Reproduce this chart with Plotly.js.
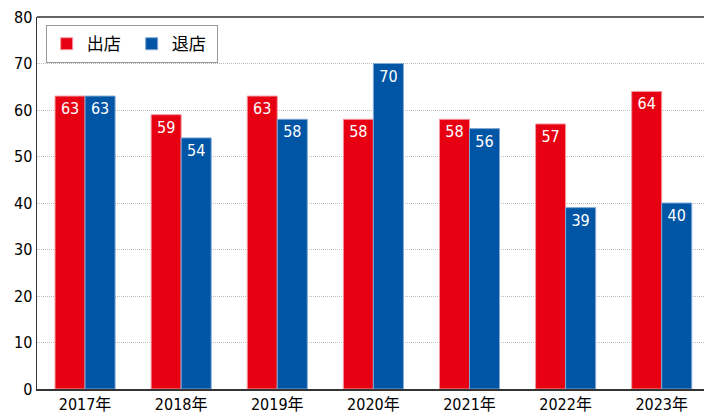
<!DOCTYPE html>
<html><head><meta charset="utf-8">
<script src="https://cdn.plot.ly/plotly-3.0.1.min.js"></script>
<style>html,body{margin:0;padding:0;background:#fff}#c{width:705px;height:416px}</style>
</head><body><div id="c"></div>
<script>
const years = ['2017年','2018年','2019年','2020年','2021年','2022年','2023年'];
const openings = [63,59,63,58,58,57,64];
const closings = [63,54,58,70,56,39,40];
const yTicks = [0,10,20,30,40,50,60,70,80];

const FONT = '"DejaVu Sans Condensed", "Noto Sans CJK JP", sans-serif';
const labelFont = {family: FONT, size: 16, color: '#fff'};

const traces = [
  {type:'bar', name:'出店', x:years, y:openings, text:openings.map(String),
   textposition:'inside', insidetextanchor:'end', textangle:0, textfont:labelFont,
   marker:{color:'#E60012', line:{color:'#F39AA0', width:1}}, hoverinfo:'none'},
  {type:'bar', name:'退店', x:years, y:closings, text:closings.map(String),
   textposition:'inside', insidetextanchor:'end', textangle:0, textfont:labelFont,
   marker:{color:'#0055A5', line:{color:'#7FA8D6', width:1}}, hoverinfo:'none'}
];

const layout = {
  width:705, height:416,
  margin:{l:37, r:1, t:17, b:27},
  paper_bgcolor:'#fff', plot_bgcolor:'#fff',
  barmode:'group', bargap:0.375, bargroupgap:0,
  font:{family:FONT, size:16, color:'#000'},
  showlegend:true,
  legend:{orientation:'h', x:0.013, y:0.978, xanchor:'left', yanchor:'top',
    bordercolor:'#999', borderwidth:1, bgcolor:'#fff',
    font:{family:'"Noto Sans CJK JP", sans-serif', size:17, color:'#000'},
    traceorder:'normal', entrywidth:40, itemwidth:14, tracegroupgap:0},
  xaxis:{type:'category', range:[-0.5, 6.44], showline:true, linecolor:'#333', linewidth:2,
    ticks:'', showgrid:false, tickfont:{family:FONT, size:16, color:'#000'}},
  yaxis:{range:[0,80], tickvals:yTicks, ticktext:yTicks.map(String),
    showline:true, linecolor:'#333', linewidth:1.5, ticks:'',
    showgrid:true, gridcolor:'#bbb', griddash:'1px,1px', gridwidth:1,
    zeroline:false, tickfont:{family:FONT, size:16, color:'#000'}},
  shapes:[{type:'line', xref:'paper', yref:'paper', x0:0, x1:1, y0:1, y1:1,
    line:{color:'#666', width:2}}]
};

Plotly.newPlot('c', traces, layout, {displayModeBar:false, staticPlot:true});
</script></body></html>
